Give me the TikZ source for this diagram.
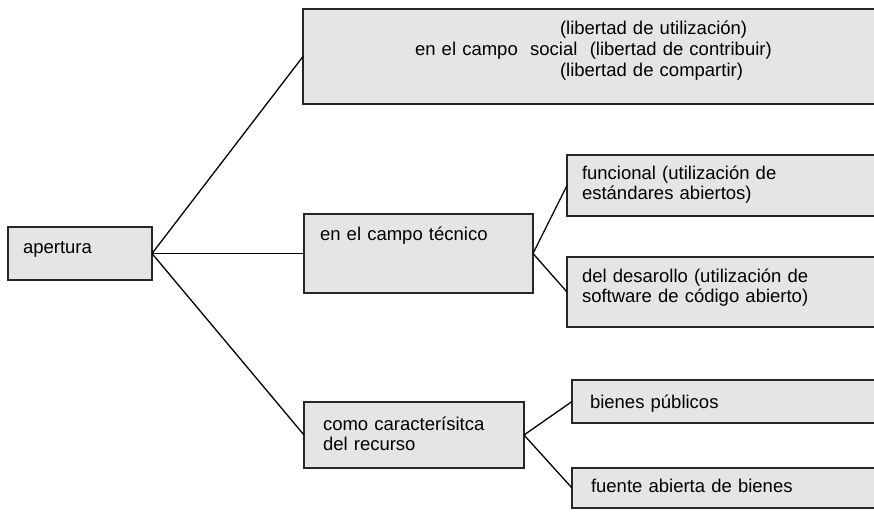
\documentclass[tikz,border=0pt]{standalone}
\usepackage{fontspec}
\setmainfont{Liberation Sans}
\usepackage{tikz}

\begin{document}
\begin{tikzpicture}[x=1pt,y=-1pt,
        caja/.style={draw=black!85, line width=1.5pt, fill=gray!20, anchor=north west,
            outer sep=0pt, inner ysep=0pt, align=left,
            font=\fontsize{18.5}{20.5}\selectfont},
        rama/.style={line width=1.3pt, black}]
        \useasboundingbox (0,0) rectangle (874,511);
        \clip (0,0) rectangle (874,511);

        % Draw the root box
        \node[caja, inner xsep=15pt, text width=114pt, text height=26pt, text depth=27pt] (apertura) at (8,227) {apertura};

        % Draw the three fields
        \node[caja, inner xsep=112pt, text width=440pt, text height=26pt, text depth=69pt] (social) at (303,9)
            {\hspace*{145pt}(libertad de utilización)\\
             en el campo\ \ social\ \ (libertad de contribuir)\\
             \hspace*{145pt}(libertad de compartir)};
        \node[caja, inner xsep=16pt, text width=197pt, text height=26pt, text depth=53pt] (tecnico) at (304,214) {en el campo técnico};
        \node[caja, inner xsep=19pt, text width=182pt, text height=28pt, text depth=38pt] (recurso) at (304,402)
            {como caracterísitca\\ del recurso};

        % Draw the boxes on the right
        \node[caja, inner xsep=15pt, text width=283pt, text height=24pt, text depth=37pt] (funcional) at (567,155)
            {funcional (utilización de\\ estándares abiertos)};
        \node[caja, inner xsep=15pt, text width=283pt, text height=25pt, text depth=45pt] (desarrollo) at (567,257)
            {del desarollo (utilización de\\ software de código abierto)};
        \node[caja, inner xsep=18pt, text width=272pt, text height=28pt, text depth=15pt] (publicos) at (572,380) {bienes públicos};
        \node[caja, inner xsep=19pt, text width=270pt, text height=24pt, text depth=16pt] (fuente) at (572,468) {fuente abierta de bienes};

        % Connect the boxes
        \draw[rama] (apertura.east) -- (social.west);
        \draw[rama] (apertura.east) -- (tecnico.west);
        \draw[rama] (apertura.east) -- (recurso.west);
        \draw[rama] (tecnico.east) -- (funcional.west);
        \draw[rama] (tecnico.east) -- (desarrollo.west);
        \draw[rama] (recurso.east) -- (publicos.west);
        \draw[rama] (recurso.east) -- (fuente.west);
    \end{tikzpicture}
\end{document}
